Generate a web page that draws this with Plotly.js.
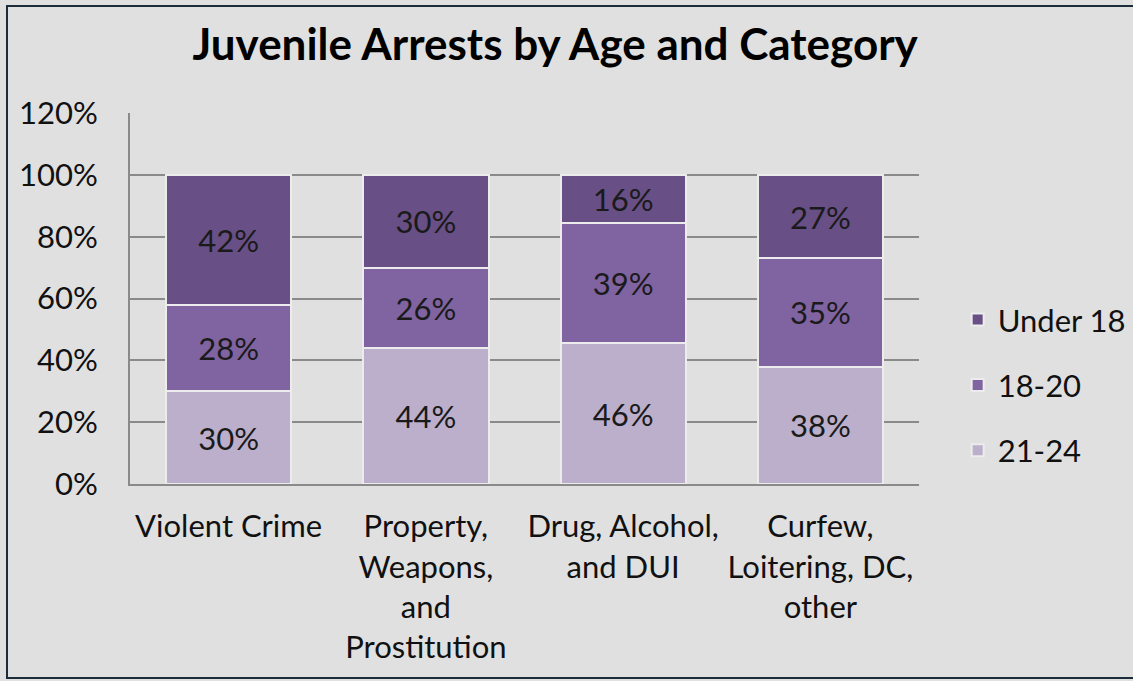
<!DOCTYPE html>
<html>
<head>
<meta charset="utf-8">
<script src="https://cdn.plot.ly/plotly-3.0.1.min.js"></script>
<style>
html,body{margin:0;padding:0;background:#e0e0e0;overflow:hidden;}
#wrap{position:relative;width:1133px;height:681px;}
#chart{width:1133px;height:681px;}
#frame{position:absolute;left:6px;top:5px;width:1140px;height:670px;border:2px solid #1c2b3a;pointer-events:none;}
</style>
</head>
<body>
<div id="wrap"><div id="chart"></div><div id="frame"></div></div>
<script>
const categories = ["Violent Crime", "Property,<br>Weapons,<br>and<br>Prostitution", "Drug, Alcohol,<br>and DUI", "Curfew,<br>Loitering, DC,<br>other"];
const age21to24 = [30, 44, 45.6, 38];
const age18to20 = [28, 26, 38.8, 35];
const under18 = [42, 30, 15.6, 27];
const yTicks = [0, 20, 40, 60, 80, 100, 120];
const yTickText = ["0%", "20%", "40%", "60%", "80%", "100%", "120%"];

const FONT = "Lato, 'Open Sans', sans-serif";
const FS = 31;
function mk(name, y, color, grp, rank){
  return {
    type: 'bar', name: name, x: categories, y: y,
    legendgroup: grp, legendrank: rank,
    marker: {color: color, line: {color: '#ececec', width: 2}},
    texttemplate: '%{y:.0f}%',
    textposition: 'inside', insidetextanchor: 'middle',
    textfont: {family: FONT, size: FS, color: '#1a1a1a'},
    constraintext: 'none',
    hoverinfo: 'skip'
  };
}
const data = [
  mk('21-24', age21to24, '#bbafcb', 'c', 3),
  mk('18-20', age18to20, '#8063a1', 'b', 2),
  mk('Under 18', under18, '#684f86', 'a', 1)
];
const layout = {
  width: 1133, height: 681,
  paper_bgcolor: '#e0e0e0', plot_bgcolor: '#e0e0e0',
  margin: {l: 130, r: 214, t: 113, b: 197, autoexpand: false},
  barmode: 'stack', bargap: 0.365,
  title: {text: '<b>Juvenile Arrests by Age and Category</b>', font: {family: FONT, size: 44, color: '#000'}, x: 0.49, xanchor: 'center', y: 0.935, yanchor: 'middle'},
  font: {family: FONT, color: '#000'},
  xaxis: {
    tickfont: {family: FONT, size: FS, color: '#111'},
    showline: true, linecolor: '#8a8a8a', linewidth: 2,
    ticks: '', ticklabelstandoff: 14, fixedrange: true
  },
  yaxis: {
    range: [0, 120], tickvals: yTicks, ticktext: yTickText,
    tickfont: {family: FONT, size: FS, color: '#111'},
    showgrid: true, gridcolor: '#8a8a8a', gridwidth: 2,
    showline: true, linecolor: '#8a8a8a', linewidth: 2,
    zeroline: false, ticks: '', ticklabelstandoff: 24, fixedrange: true
  },
  legend: {
    x: 1.049, y: 0.267, xanchor: 'left', yanchor: 'middle',
    font: {family: FONT, size: FS, color: '#111'},
    traceorder: 'grouped', tracegroupgap: 22,
    bgcolor: 'rgba(0,0,0,0)', itemwidth: 30
  },
  showlegend: true
};
Plotly.newPlot('chart', data, layout, {displayModeBar: false, staticPlot: true});
</script>
</body>
</html>
